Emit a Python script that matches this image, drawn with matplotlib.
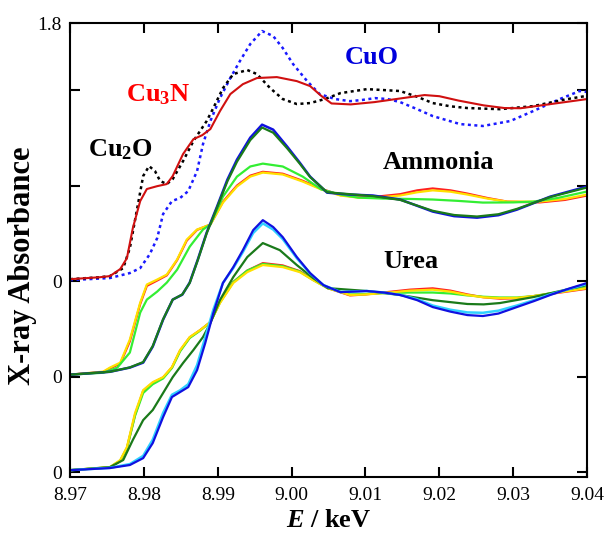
import numpy as np
import matplotlib.pyplot as plt

plt.rcParams['font.family'] = ['Liberation Serif', 'DejaVu Serif']
plt.rcParams['mathtext.fontset'] = 'custom'
plt.rcParams['mathtext.rm'] = 'Liberation Serif:bold'
plt.rcParams['mathtext.bf'] = 'Liberation Serif:bold'
plt.rcParams['mathtext.it'] = 'Liberation Serif:italic:bold'

# offsets of each group (zero lines)
off_ref, off_amm, off_urea = 1.0, 0.5, 0.0

# --- reference compounds ---
e_cu3n = [8.970, 8.974, 8.9754, 8.9768, 8.9777, 8.9785, 8.9795, 8.9804, 8.9818, 8.9831, 8.9839,
          8.9853, 8.9867, 8.9879, 8.9890, 8.9903, 8.9917, 8.9934, 8.9953, 8.9980, 9.0007, 9.0025,
          9.0040, 9.0054, 9.0080, 9.0112, 9.0145, 9.0180, 9.0200, 9.0226, 9.0260, 9.0288, 9.0310,
          9.0338, 9.040]
a_cu3n = [0.01, 0.02, 0.026, 0.063, 0.12, 0.277, 0.419, 0.482, 0.497, 0.508, 0.55,
          0.665, 0.743, 0.764, 0.796, 0.89, 0.979, 1.031, 1.063, 1.068, 1.047, 1.021,
          0.97, 0.93, 0.925, 0.937, 0.955, 0.974, 0.968, 0.945, 0.92, 0.906, 0.905,
          0.92, 0.953]

e_cu2o = [8.970, 8.974, 8.9754, 8.9772, 8.9781, 8.9791, 8.9799, 8.9807, 8.9815, 8.9822, 8.9831,
          8.9839, 8.9853, 8.9867, 8.9885, 8.9894, 8.9907, 8.9921, 8.9940, 8.9953, 8.9971, 8.9988,
          9.0007, 9.0025, 9.0045, 9.0066, 9.0102, 9.0125, 9.0147, 9.0170, 9.0191, 9.0215, 9.0238,
          9.0282, 9.0327, 9.0373, 9.040]
a_cu2o = [0.01, 0.02, 0.026, 0.068, 0.173, 0.382, 0.55, 0.602, 0.576, 0.524, 0.508,
          0.534, 0.628, 0.733, 0.838, 0.906, 1.01, 1.084, 1.105, 1.084, 1.01, 0.953,
          0.927, 0.932, 0.953, 0.984, 1.005, 1.0, 0.995, 0.965, 0.932, 0.915, 0.906,
          0.90, 0.916, 0.953, 0.97]

e_cuo = [8.970, 8.9754, 8.9781, 8.9795, 8.9808, 8.9818, 8.9826, 8.9838, 8.9849, 8.9860, 8.9872,
         8.9880, 8.9890, 8.9903, 8.9917, 8.9930, 8.9944, 8.9960, 8.9975, 8.9988, 9.0002, 9.0021,
         9.0038, 9.0059, 9.0079, 9.0095, 9.0113, 9.0130, 9.0147, 9.0170, 9.0191, 9.0228, 9.0259,
         9.0296, 9.0327, 9.0363, 9.0390, 9.040]
a_cuo = [0.005, 0.016, 0.042, 0.068, 0.141, 0.225, 0.351, 0.419, 0.435, 0.471, 0.576,
         0.717, 0.838, 0.958, 1.063, 1.152, 1.241, 1.309, 1.283, 1.22, 1.136, 1.047,
         0.979, 0.953, 0.942, 0.948, 0.958, 0.953, 0.937, 0.90, 0.864, 0.822, 0.812,
         0.838, 0.89, 0.953, 0.995, 0.99]

# --- ammonia series ---
e_amm_y = [8.970, 8.9745, 8.9754, 8.9768, 8.9781, 8.9795, 8.9804, 8.9818, 8.9831, 8.9845, 8.9858,
           8.9872, 8.9890, 8.9907, 8.9926, 8.9944, 8.9961, 8.9988, 9.0015, 9.0040, 9.0066, 9.0090,
           9.0115, 9.0147, 9.0170, 9.0191, 9.0215, 9.0238, 9.0265, 9.0292, 9.0336, 9.0370, 9.040]
a_amm_yellow = [0.01, 0.026, 0.047, 0.073, 0.194, 0.387, 0.482, 0.508, 0.534, 0.613, 0.717,
                0.77, 0.796, 0.911, 0.995, 1.047, 1.068, 1.058, 1.021, 0.98, 0.948, 0.937,
                0.937, 0.948, 0.965, 0.975, 0.968, 0.953, 0.932, 0.916, 0.916, 0.93, 0.953]
a_amm_red = [0.01, 0.024, 0.043, 0.068, 0.185, 0.38, 0.475, 0.503, 0.53, 0.61, 0.712,
             0.768, 0.796, 0.915, 1.0, 1.052, 1.072, 1.062, 1.025, 0.983, 0.95, 0.94,
             0.942, 0.955, 0.975, 0.985, 0.975, 0.958, 0.935, 0.916, 0.912, 0.925, 0.948]

e_amm_l = [8.970, 8.9745, 8.9764, 8.9781, 8.9795, 8.9804, 8.9818, 8.9831, 8.9845, 8.9862, 8.9880,
           8.9890, 8.9907, 8.9926, 8.9944, 8.9961, 8.9988, 9.0015, 9.0040, 9.0066, 9.0090, 9.0124,
           9.0160, 9.0191, 9.0225, 9.0259, 9.0300, 9.0327, 9.0360, 9.040]
a_amm_lime = [0.01, 0.02, 0.047, 0.126, 0.335, 0.403, 0.445, 0.492, 0.56, 0.68, 0.77,
              0.796, 0.942, 1.047, 1.1, 1.115, 1.1, 1.047, 0.98, 0.953, 0.937, 0.932,
              0.93, 0.927, 0.92, 0.911, 0.912, 0.916, 0.935, 0.969]

e_amm_b = [8.970, 8.9754, 8.9781, 8.9799, 8.9812, 8.9826, 8.9839, 8.9852, 8.9862, 8.9873, 8.9885,
           8.9899, 8.9913, 8.9926, 8.9944, 8.9960, 8.9975, 8.9994, 9.0011, 9.0025, 9.0048, 9.0079,
           9.0110, 9.0147, 9.0191, 9.0220, 9.0251, 9.0280, 9.0305, 9.0350, 9.040]
a_amm_blue = [0.01, 0.025, 0.047, 0.073, 0.157, 0.298, 0.403, 0.429, 0.492, 0.613, 0.754,
              0.89, 1.031, 1.136, 1.251, 1.319, 1.293, 1.204, 1.12, 1.047, 0.963, 0.953,
              0.948, 0.927, 0.864, 0.84, 0.832, 0.845, 0.874, 0.942, 0.995]
a_amm_dgreen = [0.01, 0.025, 0.048, 0.076, 0.16, 0.3, 0.403, 0.43, 0.49, 0.61, 0.75,
                0.885, 1.022, 1.125, 1.238, 1.304, 1.277, 1.195, 1.115, 1.045, 0.965, 0.955,
                0.945, 0.925, 0.868, 0.846, 0.838, 0.85, 0.878, 0.94, 0.99]

# --- urea series ---
e_urea_y = [8.970, 8.9754, 8.9768, 8.9777, 8.9788, 8.9799, 8.9812, 8.9826, 8.9838, 8.9849, 8.9862,
            8.9876, 8.9890, 8.9903, 8.9921, 8.9940, 8.9961, 8.9988, 9.0011, 9.0029, 9.0049, 9.0079,
            9.0100, 9.0124, 9.0160, 9.0191, 9.0215, 9.0238, 9.0260, 9.0282, 9.0305, 9.0327, 9.0360,
            9.040]
a_urea_yellow = [0.01, 0.026, 0.063, 0.131, 0.309, 0.429, 0.471, 0.497, 0.55, 0.639, 0.707,
                 0.743, 0.785, 0.885, 0.99, 1.047, 1.084, 1.073, 1.047, 1.005, 0.963, 0.927,
                 0.93, 0.937, 0.95, 0.955, 0.945, 0.927, 0.915, 0.911, 0.912, 0.921, 0.94,
                 0.963]
a_urea_red = [0.01, 0.024, 0.058, 0.125, 0.3, 0.425, 0.468, 0.495, 0.548, 0.636, 0.705,
              0.743, 0.785, 0.89, 0.995, 1.055, 1.094, 1.082, 1.052, 1.008, 0.963, 0.925,
              0.93, 0.94, 0.955, 0.962, 0.95, 0.93, 0.915, 0.908, 0.91, 0.921, 0.938,
              0.96]
a_urea_lime = [0.01, 0.025, 0.06, 0.125, 0.295, 0.414, 0.46, 0.49, 0.545, 0.632, 0.702,
               0.74, 0.785, 0.888, 0.995, 1.055, 1.09, 1.078, 1.05, 1.006, 0.963, 0.93,
               0.932, 0.937, 0.94, 0.94, 0.935, 0.925, 0.918, 0.914, 0.914, 0.921, 0.942,
               0.966]

e_urea_g = [8.970, 8.9754, 8.9772, 8.9785, 8.9799, 8.9812, 8.9826, 8.9839, 8.9853, 8.9867, 8.9880,
            8.9890, 8.9903, 8.9921, 8.9940, 8.9961, 8.9984, 9.0007, 9.0029, 9.0049, 9.0102, 9.0147,
            9.0191, 9.0238, 9.0260, 9.0282, 9.0327, 9.0360, 9.040]
a_urea_dgreen = [0.01, 0.026, 0.063, 0.168, 0.272, 0.325, 0.414, 0.497, 0.571, 0.639, 0.707,
                 0.78, 0.901, 1.021, 1.126, 1.199, 1.162, 1.084, 1.016, 0.963, 0.948, 0.927,
                 0.90, 0.88, 0.878, 0.885, 0.916, 0.945, 0.979]

e_urea_b = [8.970, 8.9754, 8.9781, 8.9799, 8.9812, 8.9826, 8.9838, 8.9849, 8.9860, 8.9872, 8.9883,
            8.9894, 8.9907, 8.9921, 8.9934, 8.9948, 8.9961, 8.9975, 8.9988, 9.0007, 9.0025, 9.0043,
            9.0066, 9.0085, 9.0102, 9.0125, 9.0147, 9.0170, 9.0191, 9.0215, 9.0238, 9.0259, 9.0280,
            9.0305, 9.0328, 9.0350, 9.0375, 9.040]
a_urea_blue = [0.01, 0.021, 0.037, 0.073, 0.152, 0.288, 0.393, 0.419, 0.445, 0.534, 0.675,
               0.832, 0.99, 1.073, 1.162, 1.267, 1.319, 1.283, 1.23, 1.126, 1.042, 0.979,
               0.942, 0.945, 0.948, 0.94, 0.927, 0.90, 0.864, 0.84, 0.822, 0.817, 0.83,
               0.864, 0.895, 0.927, 0.96, 0.99]
a_urea_cyan = [0.01, 0.022, 0.042, 0.085, 0.17, 0.31, 0.405, 0.428, 0.46, 0.56, 0.705,
               0.85, 0.99, 1.068, 1.152, 1.252, 1.302, 1.27, 1.22, 1.12, 1.04, 0.979,
               0.943, 0.946, 0.948, 0.94, 0.928, 0.905, 0.872, 0.85, 0.836, 0.834, 0.845,
               0.872, 0.9, 0.93, 0.958, 0.985]

yticks = [0, 0.5, 1.0, 1.5, 2.0, 2.351]
yticklabels = ['0', '0', '0', '', '', '1.8']

fig = plt.figure(figsize=(6.09, 5.36), dpi=100)
ax = fig.add_axes([0.115, 0.110, 0.849, 0.847])

dot = (0, (1.2, 1.4))
# references
ax.plot(e_cuo, np.array(a_cuo) + off_ref, color='#1a1aff', lw=1.8, ls=dot)
ax.plot(e_cu2o, np.array(a_cu2o) + off_ref, color='black', lw=1.8, ls=dot)
ax.plot(e_cu3n, np.array(a_cu3n) + off_ref, color='#d01010', lw=1.5)

# ammonia
ax.plot(e_amm_y, np.array(a_amm_red) + off_amm, color='#ff2020', lw=1.6)
ax.plot(e_amm_y, np.array(a_amm_yellow) + off_amm, color='#ffe000', lw=1.6)
ax.plot(e_amm_l, np.array(a_amm_lime) + off_amm, color='#33ee33', lw=1.6)
ax.plot(e_amm_b, np.array(a_amm_blue) + off_amm, color='#1010e0', lw=1.8)
ax.plot(e_amm_b, np.array(a_amm_dgreen) + off_amm, color='#1a7a1a', lw=1.6)

# urea
ax.plot(e_urea_y, np.array(a_urea_red) + off_urea, color='#ff2020', lw=1.6)
ax.plot(e_urea_y, np.array(a_urea_lime) + off_urea, color='#33ee33', lw=1.6)
ax.plot(e_urea_y, np.array(a_urea_yellow) + off_urea, color='#ffe000', lw=1.6)
ax.plot(e_urea_g, np.array(a_urea_dgreen) + off_urea, color='#1a7a1a', lw=1.6)
ax.plot(e_urea_b, np.array(a_urea_cyan) + off_urea, color='#30d0ff', lw=1.8)
ax.plot(e_urea_b, np.array(a_urea_blue) + off_urea, color='#1010e0', lw=1.6)

ax.set_xlim(8.97, 9.04)
ax.set_ylim(-0.026, 2.351)
ax.set_xticks([8.97, 8.98, 8.99, 9.00, 9.01, 9.02, 9.03, 9.04])
ax.set_xticklabels(['8.97', '8.98', '8.99', '9.00', '9.01', '9.02', '9.03', '9.04'])
ax.set_yticks(yticks)
ax.set_yticklabels(yticklabels)
ax.tick_params(direction='in', length=7, width=1.5, top=True, right=True, labelsize=14)
ax.tick_params(axis='x', pad=7)
ax.tick_params(axis='y', pad=6)
for s in ax.spines.values():
    s.set_linewidth(1.5)

ax.set_xlabel(r'$E$ / keV', fontsize=19, fontweight='bold', labelpad=4)
ax.set_ylabel('X-ray Absorbance', fontsize=22, fontweight='bold')
ax.yaxis.set_label_coords(-0.063, 0.465)

ax.text(8.9819, 1.974, r'$\mathbf{Cu_3N}$', color='#ff0000', fontsize=19, ha='center', va='center')
ax.text(8.9768, 1.686, r'$\mathbf{Cu_2O}$', color='black', fontsize=19, ha='center', va='center')
ax.text(9.0109, 2.17, 'CuO', color='#0000dd', fontsize=19, fontweight='bold', ha='center', va='center')
ax.text(9.0124, 1.62, 'Ammonia', color='black', fontsize=19, fontweight='bold', ha='left', va='center')
ax.text(9.0124, 1.105, 'Urea', color='black', fontsize=19, fontweight='bold', ha='left', va='center')

fig.savefig('out.png', dpi=100)
